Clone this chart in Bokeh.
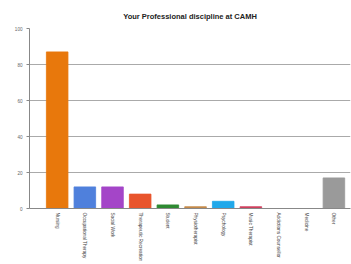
import math
from bokeh.plotting import figure
from bokeh.models import ColumnDataSource, FixedTicker, Range1d
from bokeh.embed import file_html
from bokeh.resources import INLINE

categories = ["Nursing", "Occupational Therapy", "Social Work", "Therapeutic Recreation",
              "Student", "Physiotherapist", "Psychology", "Music Therapist",
              "Addictions Counsellor", "Medicine", "Other"]
values = [87, 12, 12, 8, 2, 1, 4, 1, 0, 0, 17]
colors = ["#E8780C", "#4F80DC", "#A445C8", "#E8542C", "#2E8A32", "#C48A4A",
          "#20A8EA", "#D0405E", "#888888", "#888888", "#9A9A9A"]
y_ticks = [0, 20, 40, 60, 80, 100]

xs = list(range(len(categories)))
src = ColumnDataSource(dict(x=xs, top=values, color=colors))

p = figure(width=351, height=264, output_backend="svg", toolbar_location=None,
           x_range=Range1d(-1.0, 10.6), y_range=Range1d(0, 100),
           min_border_left=29, min_border_right=1, min_border_top=28, min_border_bottom=54)
p.title.text = "Your Professional discipline at CAMH"
p.title.align = "center"
p.title.text_font = "Arial"
p.title.text_font_size = "7.5px"
p.title.text_font_style = "bold"
p.title.text_color = "#222222"
p.title.standoff = 15
p.outline_line_color = None

p.vbar(x="x", top="top", width=0.78, bottom=0, source=src, fill_color="color",
       line_color="color", line_alpha=0.8)

p.xaxis.ticker = FixedTicker(ticks=xs)
p.xaxis.major_label_overrides = {i: c for i, c in enumerate(categories)}
p.xaxis.major_label_orientation = -math.pi / 2
p.xaxis.major_label_text_font = "Arial"
p.xaxis.major_label_text_font_size = "4.7px"
p.xaxis.major_label_text_color = "#444444"
p.xaxis.major_tick_line_color = None
p.xaxis.major_tick_out = 0
p.xaxis.major_tick_in = 0
p.xaxis.minor_tick_line_color = None
p.xaxis.minor_tick_out = 0
p.xaxis.axis_line_color = "#888888"
p.xaxis.major_label_standoff = 4

p.yaxis.ticker = FixedTicker(ticks=y_ticks)
p.yaxis.major_label_text_font = "Arial"
p.yaxis.major_label_text_font_size = "4.6px"
p.yaxis.major_label_text_color = "#666666"
p.yaxis.major_tick_out = 3
p.yaxis.major_tick_in = 0
p.yaxis.minor_tick_line_color = None
p.yaxis.minor_tick_out = 0
p.yaxis.axis_line_color = "#888888"
p.yaxis.major_tick_line_color = "#888888"
p.yaxis.major_label_standoff = 4

p.xgrid.grid_line_color = None
p.ygrid.grid_line_color = "#AAAAAA"
p.ygrid.grid_line_width = 1

open("out.html", "w").write(file_html(p, INLINE))
